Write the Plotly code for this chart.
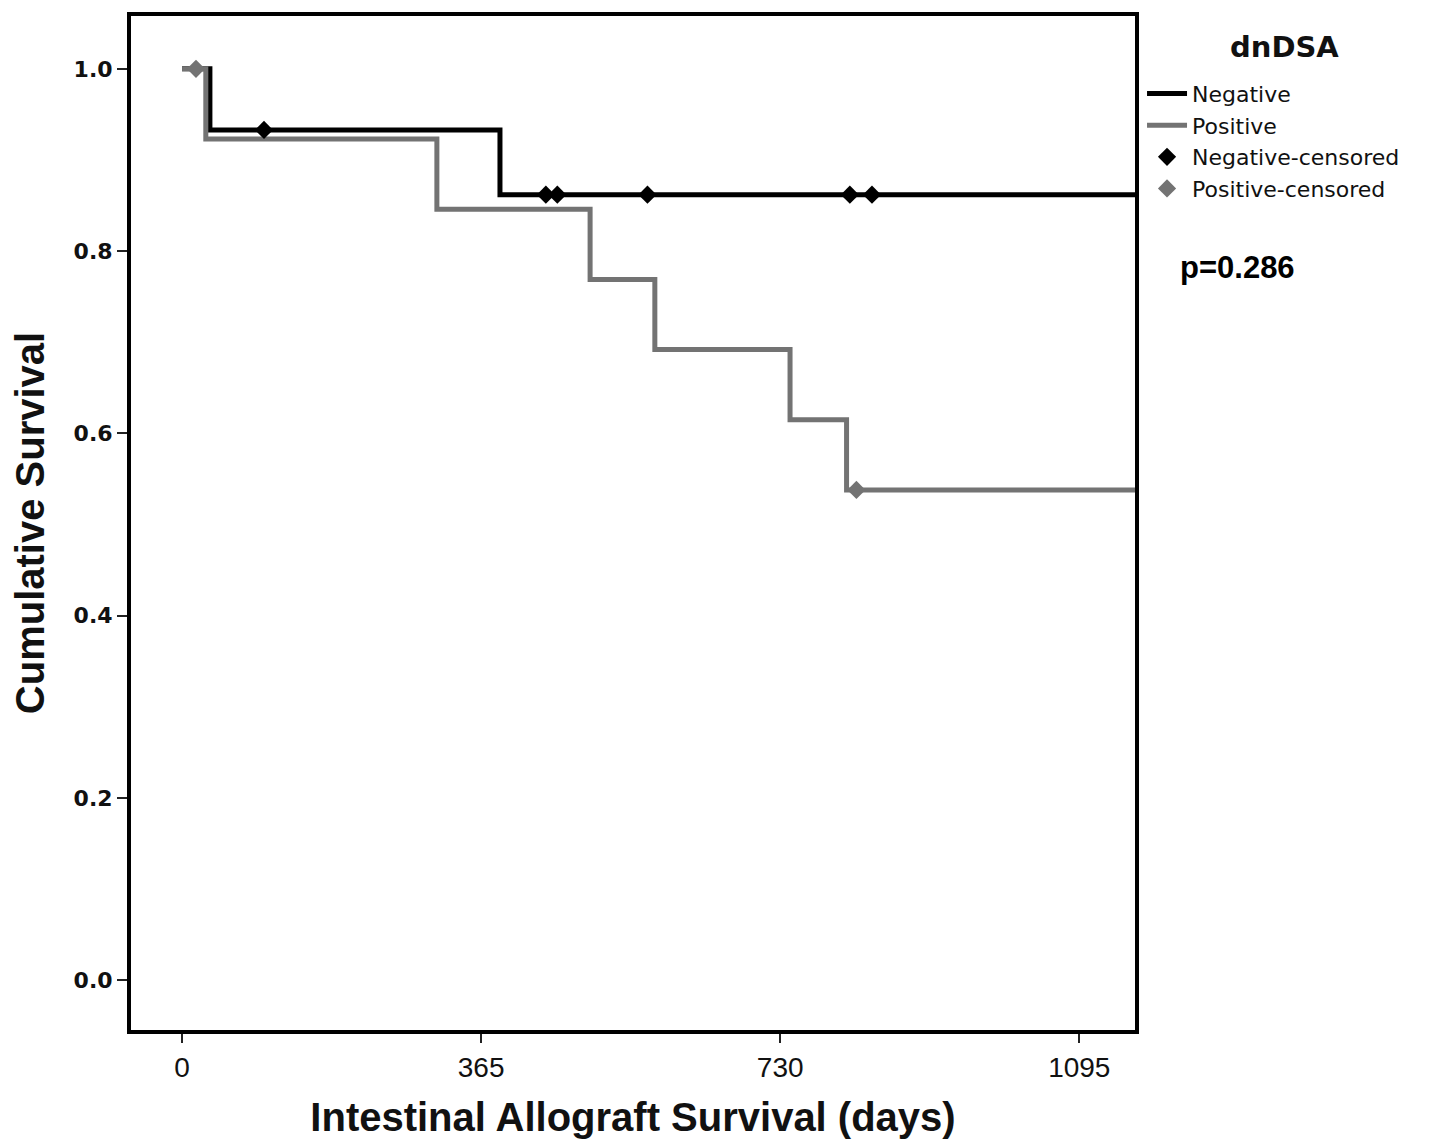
import plotly.graph_objects as go

# Kaplan-Meier step data (days, cumulative survival)
neg_times = [0, 34, 388, 1180]
neg_surv = [1.0, 0.933, 0.862, 0.862]
neg_cens_times = [100, 444, 458, 568, 815, 842]
neg_cens_surv = [0.933, 0.862, 0.862, 0.862, 0.862, 0.862]

pos_times = [0, 29, 311, 498, 577, 742, 811, 1180]
pos_surv = [1.0, 0.923, 0.846, 0.769, 0.692, 0.615, 0.538, 0.538]
pos_cens_times = [17, 823]
pos_cens_surv = [1.0, 0.538]

x_ticks = [0, 365, 730, 1095]
y_ticks = [0.0, 0.2, 0.4, 0.6, 0.8, 1.0]

BLACK = "#000000"
GREY = "#737373"

fig = go.Figure()
fig.add_trace(go.Scatter(x=neg_times, y=neg_surv, mode="lines", line=dict(shape="hv", color=BLACK, width=5),
                         name="Negative"))
fig.add_trace(go.Scatter(x=pos_times, y=pos_surv, mode="lines", line=dict(shape="hv", color=GREY, width=5),
                         name="Positive"))
fig.add_trace(go.Scatter(x=neg_cens_times, y=neg_cens_surv, mode="markers",
                         marker=dict(symbol="diamond", size=14, color=BLACK), name="Negative-censored"))
fig.add_trace(go.Scatter(x=pos_cens_times, y=pos_cens_surv, mode="markers",
                         marker=dict(symbol="diamond", size=14, color=GREY), name="Positive-censored"))

# page body has an 8px default margin, so the figure is 8px smaller and shifted
fig.update_layout(
    width=1433, height=1131,
    margin=dict(l=123, r=306, t=4, b=109),
    plot_bgcolor="white", paper_bgcolor="white",
    showlegend=True,
    legend=dict(
        x=1.007, y=0.944, xanchor="left", yanchor="top",
        font=dict(family="DejaVu Sans", size=22, color="#111"),
        tracegroupgap=0, itemwidth=40, bgcolor="rgba(0,0,0,0)",
    ),
    xaxis=dict(
        range=[-62.3, 1163], tickvals=x_ticks, ticktext=[str(v) for v in x_ticks],
        showgrid=False, zeroline=False, showline=True, linecolor=BLACK, linewidth=4, mirror=True,
        ticks="outside", ticklen=9, tickwidth=2, tickcolor="#222",
        tickfont=dict(family="Liberation Sans Narrow, Liberation Sans", size=28, color="#111"),
        title=dict(text="Intestinal Allograft Survival (days)", standoff=22,
                   font=dict(family="Liberation Sans", size=40, color="#111", weight="bold")),
    ),
    yaxis=dict(
        range=[-0.0546, 1.058], tickvals=y_ticks, tickformat=".1f",
        showgrid=False, zeroline=False, showline=True, linecolor=BLACK, linewidth=4, mirror=True,
        ticks="outside", ticklen=10, tickwidth=2, tickcolor="#222",
        tickfont=dict(family="DejaVu Sans", size=22, color="#111", weight="bold"),
        title=dict(text="Cumulative Survival", standoff=20,
                   font=dict(family="Liberation Sans Narrow, Liberation Sans", size=40, color="#111", weight="bold")),
    ),
    annotations=[
        dict(text="<b>dnDSA</b>", xref="paper", yref="paper", x=1.149, y=0.9695,
             xanchor="center", yanchor="middle", showarrow=False,
             font=dict(family="DejaVu Sans", size=29, color="#111")),
        dict(text="<b>p=0.286</b>", xref="paper", yref="paper", x=1.043, y=0.752,
             xanchor="left", yanchor="middle", showarrow=False,
             font=dict(family="Liberation Sans", size=31, color="#000")),
    ],
)

fig.write_html("out.html")
